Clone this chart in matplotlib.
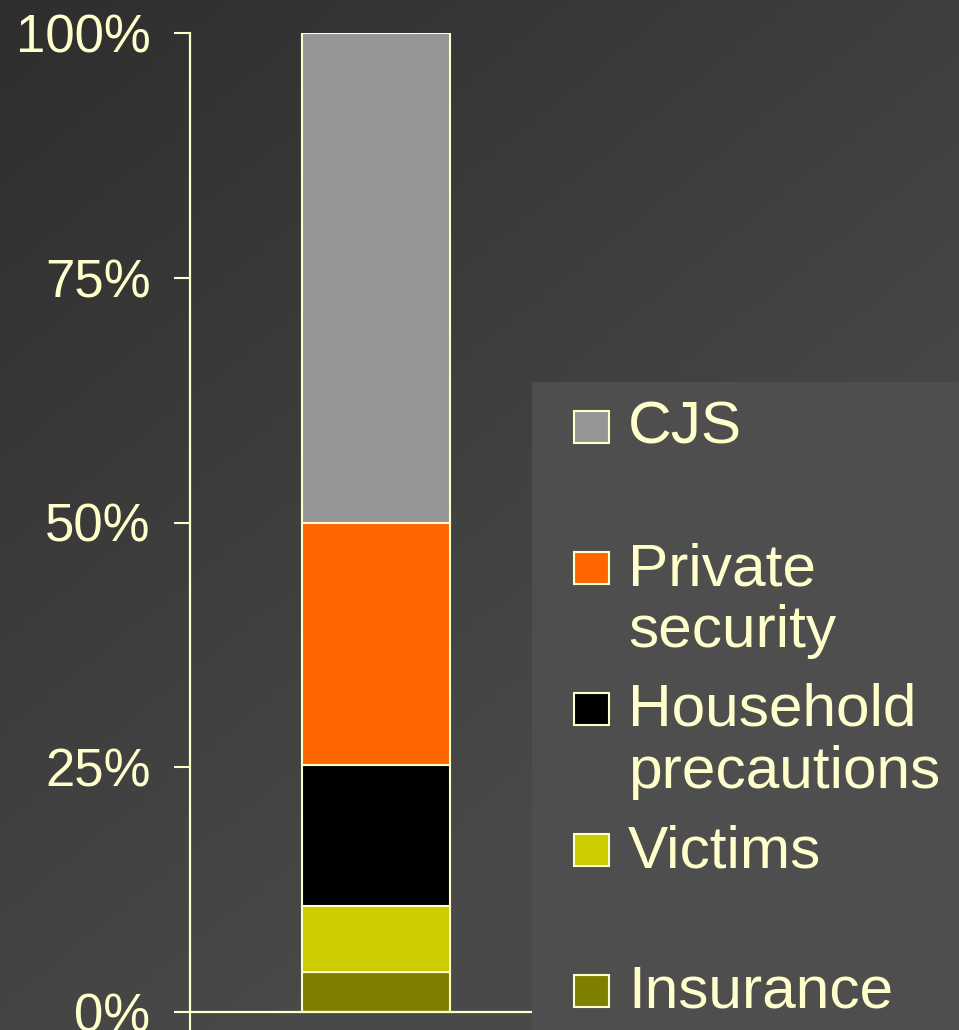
import numpy as np
import matplotlib.pyplot as plt
from matplotlib.patches import Rectangle

plt.rcParams['font.family'] = ['Liberation Sans', 'DejaVu Sans']

# data (shares of total cost, %)
categories = ["Insurance", "Victims", "Household\nprecautions", "Private\nsecurity", "CJS"]
shares = [4.1, 6.7, 14.4, 24.8, 50.0]
colors = ["#808000", "#CCCC00", "#000000", "#FF6600", "#969696"]
yticks = [0, 25, 50, 75, 100]
ytick_labels = ["0%", "25%", "50%", "75%", "100%"]

text_col = "#FFFFCC"

fig = plt.figure(figsize=(9.59, 10.30), dpi=100)

# dark gradient background (darker at the top-left corner)
bg = fig.add_axes([0, 0, 1, 1], zorder=-10)
yy, xx = np.mgrid[0:1:200j, 0:1:200j]
grad = np.clip(0.6 * xx + 0.8 * yy, 0, 1)
level = 0.18 + 0.11 * grad
rgb = np.dstack([level, level, level])
bg.imshow(rgb, aspect="auto", extent=[0, 1, 0, 1], origin="upper")
bg.axis("off")

ax = fig.add_axes([190 / 959, 18 / 1030, 372 / 959, 979 / 1030])
ax.patch.set_alpha(0)

bottom = 0
for val, col in zip(shares, colors):
    ax.bar(0, val, width=0.4, bottom=bottom, color=col,
           edgecolor=text_col, linewidth=1.5)
    bottom += val

ax.set_xlim(-0.5, 0.5)
ax.set_ylim(0, 100)
ax.set_yticks(yticks)
ax.set_yticklabels(ytick_labels)
ax.set_xticks([-0.5, 0.5])
ax.set_xticklabels([])
ax.tick_params(axis="y", colors=text_col, labelcolor=text_col, length=11.5,
               width=1.5, pad=17, labelsize=38, direction="out")
ax.tick_params(axis="x", colors=text_col, length=13, width=1.5, direction="out")
for s in ["top", "right"]:
    ax.spines[s].set_visible(False)
for s in ["left", "bottom"]:
    ax.spines[s].set_color(text_col)
    ax.spines[s].set_linewidth(1.6)

# legend panel (drawn by hand to keep PowerPoint-like row spacing)
lg = fig.add_axes([532 / 959, 0, 427 / 959, 648 / 1030], zorder=5)
lg.set_xlim(0, 427)
lg.set_ylim(648, 0)
lg.set_facecolor("#4E4E4E")
lg.set_xticks([])
lg.set_yticks([])
for s in lg.spines.values():
    s.set_visible(False)

row0 = 62
row_step = 141
line_step = 62
for i, (lab, col) in enumerate(zip(categories[::-1], colors[::-1])):
    base = row0 + i * row_step
    lg.add_patch(Rectangle((42, base - 33), 35, 32, facecolor=col,
                           edgecolor=text_col, linewidth=1.5))
    for j, line in enumerate(lab.split("\n")):
        lg.text(96, base + j * line_step, line, color=text_col, fontsize=43.5,
                va="baseline", ha="left")

fig.savefig("out.png", dpi=100)
